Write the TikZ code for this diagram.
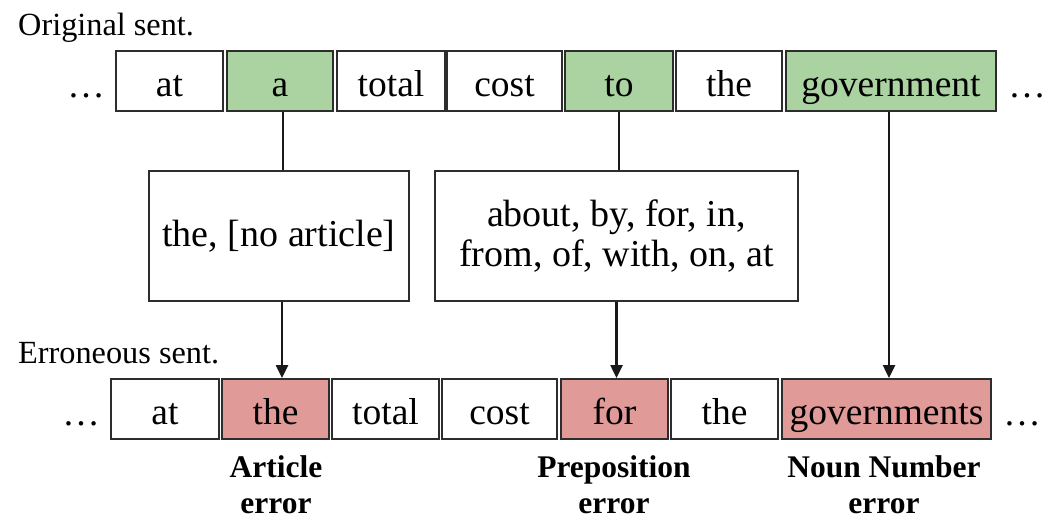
\documentclass[tikz,border=0pt]{standalone}
\usepackage{fontspec}
\setmainfont{Liberation Serif}
\usetikzlibrary{arrows.meta}
\definecolor{keepgreen}{RGB}{170,211,161}
\definecolor{errred}{RGB}{224,154,152}
\definecolor{edge}{RGB}{45,45,45}
\begin{document}
\begin{tikzpicture}[x=1pt,y=-1pt,
  word/.style={draw=edge, line width=2pt, minimum height=60pt, inner sep=0pt,
    text height=35.6pt, text depth=3.7pt, font=\fontsize{37.5}{40}\selectfont},
  kept/.style={word, fill=keepgreen},
  wrong/.style={word, fill=errred},
  choices/.style={draw=edge, line width=2pt, inner sep=0pt, align=center,
    font=\fontsize{38}{40}\selectfont},
  rowlabel/.style={anchor=base west, inner sep=0pt, font=\fontsize{32.3}{36}\selectfont},
  errlabel/.style={anchor=north, inner sep=0pt, align=center,
    font=\fontsize{31.5}{36.5}\selectfont\bfseries},
  dots/.style={anchor=base, inner sep=0pt, font=\fontsize{37.5}{40}\selectfont},
  link/.style={line width=2.5pt, draw=black!90},
  change/.style={link, -{Triangle[length=13pt,width=12pt]}}]
\useasboundingbox (0,0) rectangle (1051,520);

% row labels
\node[rowlabel] (lorig) at (18,35) {Original sent.};
\node[rowlabel] (lerr) at (18,363) {Erroneous sent.};

% original sentence
\node[dots] (od1) at (86,97) {\dots};
\node[word, minimum width=107pt] (o1) at (169.5,81) {at};
\node[kept, minimum width=106pt] (o2) at (280,81) {a};
\node[word, minimum width=108pt] (o3) at (391,81) {total};
\node[word, minimum width=115pt] (o4) at (504.5,81) {cost};
\node[kept, minimum width=108pt] (o5) at (619,81) {to};
\node[word, minimum width=106pt] (o6) at (729,81) {the};
\node[kept, minimum width=210pt] (o7) at (891,81) {government};
\node[dots] (od2) at (1027,97) {\dots};

% candidate replacements
\node[choices, minimum width=260pt, minimum height=130pt] (c1) at (279,236) {the, [no article]};
\node[choices, minimum width=363pt, minimum height=130pt] (c2) at (616.5,236)
  {about, by, for, in,\\from, of, with, on, at};

% erroneous sentence
\node[dots] (ed1) at (81,425) {\dots};
\node[word, minimum width=108pt] (e1) at (165,409) {at};
\node[wrong, minimum width=107pt] (e2) at (275.5,409) {the};
\node[word, minimum width=107pt] (e3) at (385.5,409) {total};
\node[word, minimum width=115pt] (e4) at (499.5,409) {cost};
\node[wrong, minimum width=107pt] (e5) at (614.5,409) {for};
\node[word, minimum width=107pt] (e6) at (724.5,409) {the};
\node[wrong, minimum width=209pt] (e7) at (886.5,409) {governments};
\node[dots] (ed2) at (1022,425) {\dots};

% error types
\node[errlabel] (k1) at (276,455) {Article\\error};
\node[errlabel] (k2) at (614,455) {Preposition\\error};
\node[errlabel] (k3) at (884,455) {Noun Number\\error};

% connectors
\draw[link] ([xshift=3pt]o2.south) -- ([xshift=3pt]o2.south |- c1.north);
\draw[change] ([xshift=3pt]c1.south) -- ([xshift=3pt]c1.south |- e2.north);
\draw[link] (o5.south) -- (o5.south |- c2.north);
\draw[change] (c2.south) -- (c2.south |- e5.north);
\draw[change] ([xshift=-2pt]o7.south) -- ([xshift=-2pt]o7.south |- e7.north);
\end{tikzpicture}
\end{document}
